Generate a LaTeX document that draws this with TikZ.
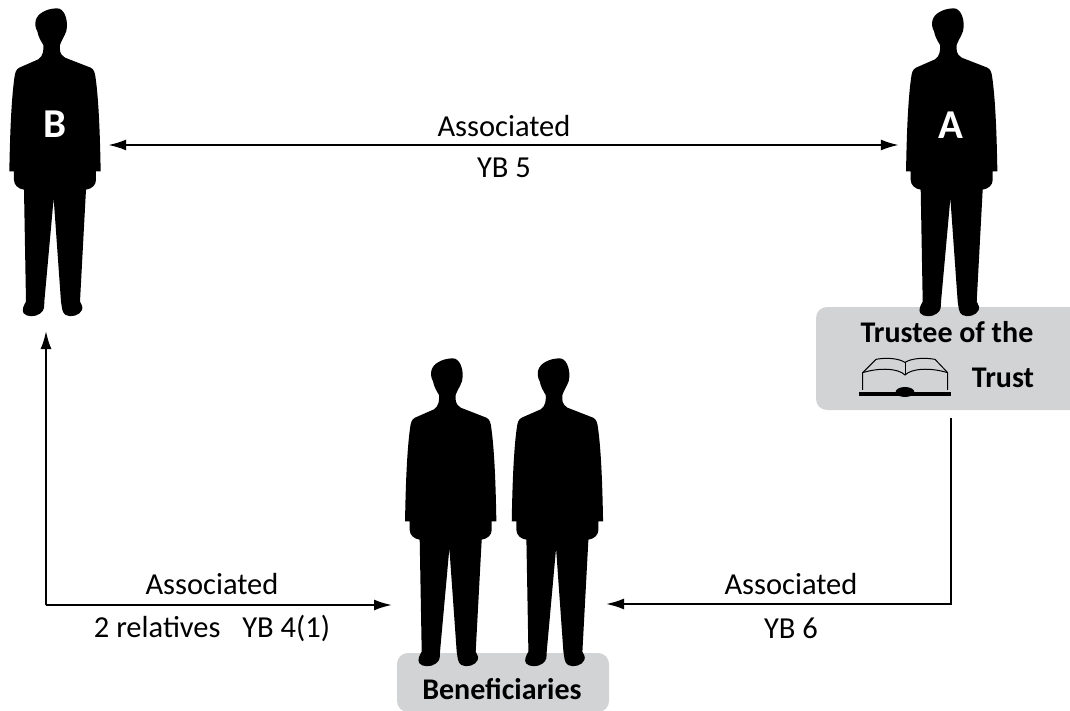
\documentclass[tikz,border=0pt]{standalone}
\usepackage{fontspec}
\setmainfont{Carlito}
\usetikzlibrary{arrows.meta}
\definecolor{boxgrey}{HTML}{D1D3D4}
\tikzset{
  personbox/.style={inner sep=0pt,minimum width=#1,minimum height=290pt},
  silhouette/.pic={
    \fill[black,xscale=0.3333,yscale=0.3333]
      (130,135) .. controls (122,122) and (115,110) .. (112,94)
      .. controls (106,84) and (105,72) .. (107,62)
      .. controls (112,40) and (140,26) .. (170,25)
      .. controls (192,24) and (202,55) .. (201,80)
      .. controls (201,100) and (188,112) .. (180,135)
      .. controls (179,150) and (178,162) .. (195,173)
      -- (272,203) .. controls (282,208) and (285,218) .. (287,235)
      .. controls (296,300) and (300,400) .. (302,514)
      -- (288,514) -- (288,540) .. controls (288,555) and (275,567) .. (258,569)
      -- (240,905) .. controls (243,912) and (250,920) .. (246,930)
      .. controls (240,946) and (212,954) .. (197,945)
      .. controls (185,938) and (186,920) .. (183,905)
      -- (161,595) -- (133,905)
      .. controls (132,920) and (135,930) .. (120,941)
      .. controls (105,952) and (80,951) .. (71,940)
      .. controls (64,930) and (72,915) .. (78,905)
      -- (72,569)
      .. controls (55,567) and (42,555) .. (42,540)
      -- (42,514) -- (28,514)
      .. controls (30,400) and (34,300) .. (43,235)
      .. controls (45,218) and (48,208) .. (58,203)
      -- (115,178) .. controls (130,168) and (131,150) .. (130,135) -- cycle;
  },
  arrowline/.style={line width=2pt,-{Latex[length=18pt,width=11pt]}},
  dblline/.style={line width=2pt,{Latex[length=18pt,width=11pt]}-{Latex[length=18pt,width=11pt]}},
  plainlabel/.style={inner sep=0pt,font=\fontsize{30.5}{32}\selectfont},
  boldlabel/.style={inner sep=0pt,font=\fontsize{30}{32}\selectfont\bfseries},
  letterlabel/.style={inner sep=0pt,text=white,font=\fontsize{41}{44}\selectfont\bfseries},
  greybox/.style={fill=boxgrey,rounded corners=11pt},
}
\begin{document}
\begin{tikzpicture}[x=1pt,y=-1pt]
\useasboundingbox (0,0) rectangle (1070,711);
\begin{scope}
\clip (0,0) rectangle (1070,711);
\fill[greybox] (816,307) rectangle (1095,410);
\fill[greybox] (397,653) rectangle (609,712);
\end{scope}
% people
\pic at (0,0) {silhouette};
\pic at (896.7,0) {silhouette};
\pic at (395.7,350) {silhouette};
\pic at (502.4,350) {silhouette};
% person anchors
\node[personbox=106pt] (B) at (55,145) {};
\node[personbox=106pt] (A) at (952,145) {};
\node[letterlabel] (bl) at (55,124) {B};
\node[letterlabel] (al) at (950.7,125) {A};
% grey box texts
\node[boldlabel] (tt) at (947,332) {Trustee of the};
\node[boldlabel] (tr) at (1003,378) {Trust};
\node[boldlabel] (bf) at (502,689) {Beneficiaries};
% book
\begin{scope}[shift={(800,290)},x=0.3333pt,y=-0.3333pt]
\draw[line width=1pt,line join=round] (188,300) -- (188,248) -- (228,208)
  .. controls (260,202) and (295,205) .. (315,217)
  .. controls (335,205) and (370,202) .. (405,208) -- (443,248) -- (443,300);
\draw[line width=1pt] (188,248) .. controls (240,232) and (295,235) .. (315,255)
  .. controls (335,235) and (390,232) .. (443,248);
\draw[line width=1pt] (315,217) -- (315,255);
\fill (178,305) rectangle (452,317);
\fill (315,306) ellipse [x radius=28,y radius=15];
\end{scope}
% connectors
\coordinate (trustEnd) at (951,418);
\coordinate (elbowR) at (951,604);
\coordinate (elbowL) at (46,605);
\coordinate (bFoot) at (46,331);
\coordinate (benL) at (392,605);
\coordinate (benR) at (606,604);
\draw[dblline] (B.east) -- (A.west |- B.east);
\draw[arrowline] (trustEnd) -- (elbowR) -- (benR);
\draw[arrowline] (elbowL) -- (bFoot);
\draw[arrowline] (elbowL) -- (benL);
% edge labels
\node[plainlabel] (l1) at (504,126) {Associated};
\node[plainlabel] (l2) at (504,168) {YB 5};
\node[plainlabel] (l3) at (212,584) {Associated};
\node[plainlabel] (l4) at (212,628) {2 relatives\ \ \hspace{8pt}YB 4(1)};
\node[plainlabel] (l5) at (791,584) {Associated};
\node[plainlabel] (l6) at (791,628) {YB 6};
\end{tikzpicture}
\end{document}
